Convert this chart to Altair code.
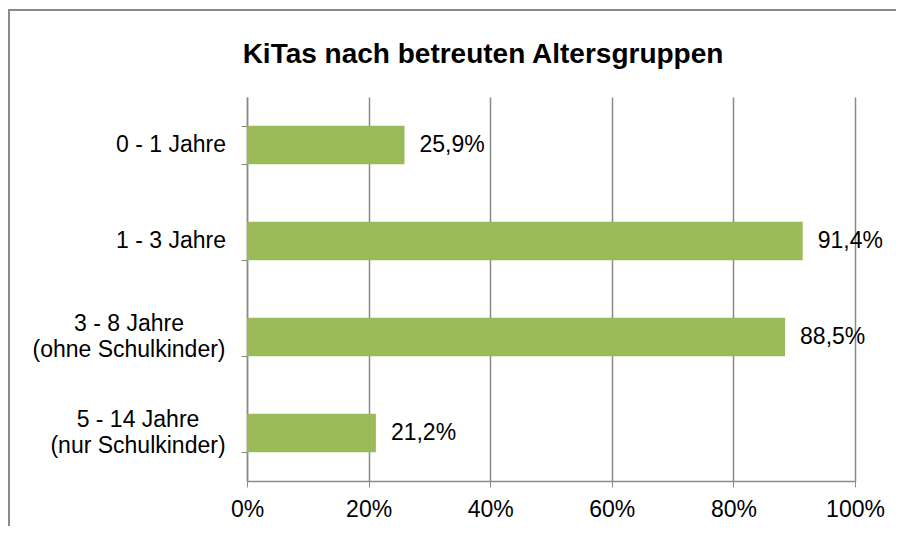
import altair as alt
import pandas as pd

categories = ["0 - 1 Jahre", "1 - 3 Jahre", "3 - 8 Jahre\n(ohne Schulkinder)", "5 - 14 Jahre\n(nur Schulkinder)"]
values = [25.9, 91.4, 88.5, 21.2]
x_ticks = [0, 20, 40, 60, 80, 100]

df = pd.DataFrame({"Gruppe": categories, "Anteil": values})

FONT = "Liberation Sans"
GRAY = "#8a8a8a"
GREEN = "#9bbb59"

base = alt.Chart(df)

y_enc = alt.Y(
    "Gruppe:N",
    sort=None,
    scale=alt.Scale(paddingInner=0.6, paddingOuter=0.3),
    axis=alt.Axis(
        title=None,
        labels=False,
        tickBand="extent",
        tickSize=6,
        tickColor=GRAY,
        domainColor=GRAY,
        domainWidth=1.5,
        grid=False,
    ),
)

frame = base.mark_rect(fill=None, stroke=GRAY, strokeWidth=2).encode(
    x=alt.value(-238), x2=alt.value(700), y=alt.value(-87), y2=alt.value(500)
).transform_filter("datum.Gruppe == '0 - 1 Jahre'")

bars = base.mark_bar(color=GREEN).encode(
    x=alt.X(
        "Anteil:Q",
        scale=alt.Scale(domain=[0, 100], nice=False),
        axis=alt.Axis(
            title=None,
            values=x_ticks,
            labelExpr="datum.value + '%'",
            labelFont=FONT,
            labelFontSize=23,
            labelColor="black",
            labelPadding=11,
            labelFlush=False,
            tickSize=6,
            tickColor=GRAY,
            domainColor=GRAY,
            domainWidth=1.5,
            grid=True,
            gridColor=GRAY,
            gridWidth=1.5,
        ),
    ),
    y=y_enc,
)

labels = base.transform_calculate(
    txt="replace(format(datum.Anteil, '.1f'), '.', ',') + '%'"
).mark_text(align="left", baseline="middle", dx=15, font=FONT, fontSize=23, color="black").encode(
    x="Anteil:Q",
    y=alt.Y("Gruppe:N", sort=None),
    text="txt:N",
)

cat_single = base.transform_filter("indexof(datum.Gruppe, '\\n') < 0").mark_text(
    align="right", baseline="middle", dx=-21, font=FONT, fontSize=23, color="black"
).encode(
    x=alt.datum(0),
    y=alt.Y("Gruppe:N", sort=None),
    text="Gruppe:N",
)


def multi_label(cat, dx):
    return base.transform_filter(alt.datum.Gruppe == cat).mark_text(
        align="center", baseline="middle", dx=dx, dy=-13, lineBreak="\n", lineHeight=26,
        font=FONT, fontSize=23, color="black"
    ).encode(
        x=alt.datum(0),
        y=alt.Y("Gruppe:N", sort=None),
        text="Gruppe:N",
    )


cat_multi_a = multi_label(categories[2], -118)
cat_multi_b = multi_label(categories[3], -109)

chart = alt.layer(frame, bars, labels, cat_single, cat_multi_a, cat_multi_b).properties(
    width=608,
    height=384,
    autosize=alt.AutoSizeParams(type="none"),
    padding={"left": 239, "top": 89, "right": 41, "bottom": 45},
    title=alt.TitleParams(
        "KiTas nach betreuten Altersgruppen",
        font=FONT,
        fontSize=28,
        fontWeight="bold",
        color="black",
        anchor="middle",
        frame="group",
        dx=-68,
        offset=-60,
    ),
).configure_view(stroke=None)

chart.save("out.html", embed_options={"renderer": "svg", "actions": False})
